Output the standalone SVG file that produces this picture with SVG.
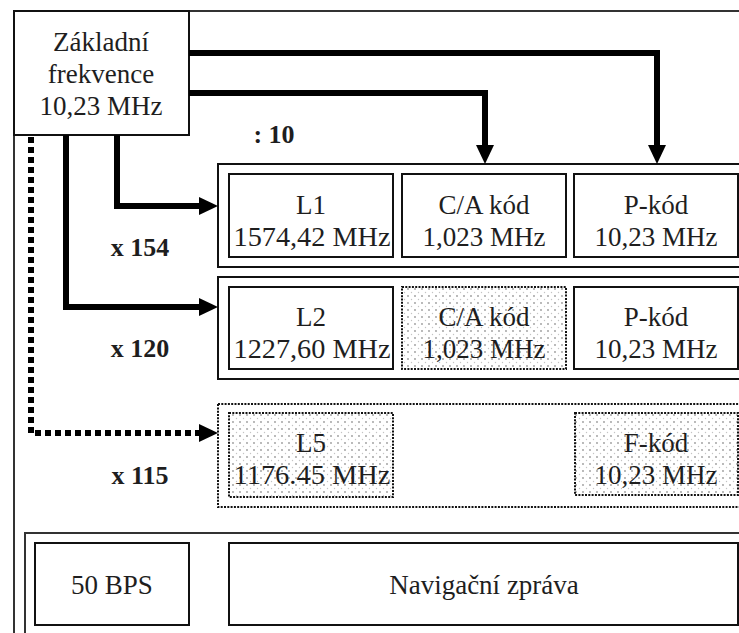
<svg xmlns="http://www.w3.org/2000/svg" width="739" height="633" viewBox="0 0 739 633">
<style>
.box{fill:#fff;stroke:#111;stroke-width:2}
.frame{fill:none;stroke:#333;stroke-width:2}
.dbox{fill:url(#dots);stroke:#111;stroke-width:2;stroke-dasharray:2 1.3}
.dframe{fill:none;stroke:#111;stroke-width:2;stroke-dasharray:2 1.3}
.c{fill:none;stroke:#000;stroke-width:6}
.cd{fill:none;stroke:#000;stroke-width:6;stroke-dasharray:6 4}
.ah{fill:#000}
</style>
<defs>
<pattern id="dots" width="7" height="7" patternUnits="userSpaceOnUse">
<rect width="7" height="7" fill="#fff"/>
<circle cx="2" cy="2" r="0.9" fill="#9a9a9a"/>
<circle cx="5.5" cy="5.5" r="0.7" fill="#c4c4c4"/>
</pattern>
</defs>

<g id="frame">
<path class="frame" d="M14,633 V11 H740"/>
<rect class="frame" x="25" y="533" width="720" height="110"/>
</g>

<g id="row-l1">
<rect class="box" x="218" y="164" width="530" height="103"/>
</g>
<g id="row-l2">
<rect class="box" x="218" y="277" width="530" height="102"/>
</g>
<g id="row-l5">
<rect class="dframe" x="218" y="404" width="530" height="103"/>
</g>

<g id="zakladni">
<rect class="box" x="14" y="11" width="175" height="124"/>
<text x="101" y="51" font-family="Liberation Serif" font-size="27" fill="#1e1e1e" text-anchor="middle">Základní</text>
<text x="101" y="83" font-family="Liberation Serif" font-size="27" fill="#1e1e1e" text-anchor="middle">frekvence</text>
<text x="101" y="115" font-family="Liberation Serif" font-size="27" fill="#1e1e1e" text-anchor="middle">10,23 MHz</text>
</g>

<g id="l1">
<rect class="box" x="229" y="174" width="164" height="83"/>
<text x="311" y="214" font-family="Liberation Serif" font-size="27" fill="#1e1e1e" text-anchor="middle">L1</text>
<text x="312" y="246" font-family="Liberation Serif" font-size="27" fill="#1e1e1e" text-anchor="middle" textLength="157" lengthAdjust="spacingAndGlyphs">1574,42 MHz</text>
</g>
<g id="ca1">
<rect class="box" x="402" y="174" width="164" height="83"/>
<text x="484" y="214" font-family="Liberation Serif" font-size="27" fill="#1e1e1e" text-anchor="middle">C/A kód</text>
<text x="484" y="246" font-family="Liberation Serif" font-size="27" fill="#1e1e1e" text-anchor="middle">1,023 MHz</text>
</g>
<g id="p1">
<rect class="box" x="574" y="174" width="164" height="83"/>
<text x="656" y="214" font-family="Liberation Serif" font-size="27" fill="#1e1e1e" text-anchor="middle">P-kód</text>
<text x="656" y="246" font-family="Liberation Serif" font-size="27" fill="#1e1e1e" text-anchor="middle">10,23 MHz</text>
</g>

<g id="l2">
<rect class="box" x="229" y="287" width="164" height="82"/>
<text x="311" y="326" font-family="Liberation Serif" font-size="27" fill="#1e1e1e" text-anchor="middle">L2</text>
<text x="312" y="358" font-family="Liberation Serif" font-size="27" fill="#1e1e1e" text-anchor="middle" textLength="157" lengthAdjust="spacingAndGlyphs">1227,60 MHz</text>
</g>
<g id="ca2">
<rect class="dbox" x="402" y="287" width="164" height="82"/>
<text x="484" y="326" font-family="Liberation Serif" font-size="27" fill="#1e1e1e" text-anchor="middle">C/A kód</text>
<text x="484" y="358" font-family="Liberation Serif" font-size="27" fill="#1e1e1e" text-anchor="middle">1,023 MHz</text>
</g>
<g id="p2">
<rect class="box" x="574" y="287" width="164" height="82"/>
<text x="656" y="326" font-family="Liberation Serif" font-size="27" fill="#1e1e1e" text-anchor="middle">P-kód</text>
<text x="656" y="358" font-family="Liberation Serif" font-size="27" fill="#1e1e1e" text-anchor="middle">10,23 MHz</text>
</g>

<g id="l5">
<rect class="dbox" x="229" y="413" width="164" height="84"/>
<text x="311" y="452" font-family="Liberation Serif" font-size="27" fill="#1e1e1e" text-anchor="middle">L5</text>
<text x="312" y="484" font-family="Liberation Serif" font-size="27" fill="#1e1e1e" text-anchor="middle" textLength="157" lengthAdjust="spacingAndGlyphs">1176.45 MHz</text>
</g>
<g id="f5">
<rect class="dbox" x="575" y="413" width="163" height="82"/>
<text x="656" y="452" font-family="Liberation Serif" font-size="27" fill="#1e1e1e" text-anchor="middle">F-kód</text>
<text x="656" y="484" font-family="Liberation Serif" font-size="27" fill="#1e1e1e" text-anchor="middle">10,23 MHz</text>
</g>

<g id="bps">
<rect class="box" x="35" y="543" width="154" height="82"/>
<text x="112" y="594" font-family="Liberation Serif" font-size="27" fill="#1e1e1e" text-anchor="middle">50 BPS</text>
</g>
<g id="nav">
<rect class="box" x="229" y="543" width="509" height="82"/>
<text x="484" y="594" font-family="Liberation Serif" font-size="27" fill="#1e1e1e" text-anchor="middle">Navigační zpráva</text>
</g>

<g id="labels">
<text x="274" y="143" font-family="Liberation Serif" font-size="26" font-weight="bold" fill="#1e1e1e" text-anchor="middle">: 10</text>
<text x="140" y="256" font-family="Liberation Serif" font-size="26" font-weight="bold" fill="#1e1e1e" text-anchor="middle">x 154</text>
<text x="140" y="357" font-family="Liberation Serif" font-size="26" font-weight="bold" fill="#1e1e1e" text-anchor="middle">x 120</text>
<text x="140" y="484" font-family="Liberation Serif" font-size="26" font-weight="bold" fill="#1e1e1e" text-anchor="middle">x 115</text>
</g>

<g id="connectors">
<path class="c" d="M189,53 H657 V146"/>
<path class="c" d="M189,93 H485 V146"/>
<path class="c" d="M117,135 V206 H200"/>
<path class="c" d="M66,135 V307 H200"/>
<path class="cd" d="M31,137 V433 H200"/>
<path class="ah" d="M648,145 L666,145 L657,164 z"/>
<path class="ah" d="M476,145 L494,145 L485,164 z"/>
<path class="ah" d="M199,197 L218,206 L199,215 z"/>
<path class="ah" d="M199,298 L218,307 L199,316 z"/>
<path class="ah" d="M199,424 L218,433 L199,442 z"/>
</g>
</svg>
